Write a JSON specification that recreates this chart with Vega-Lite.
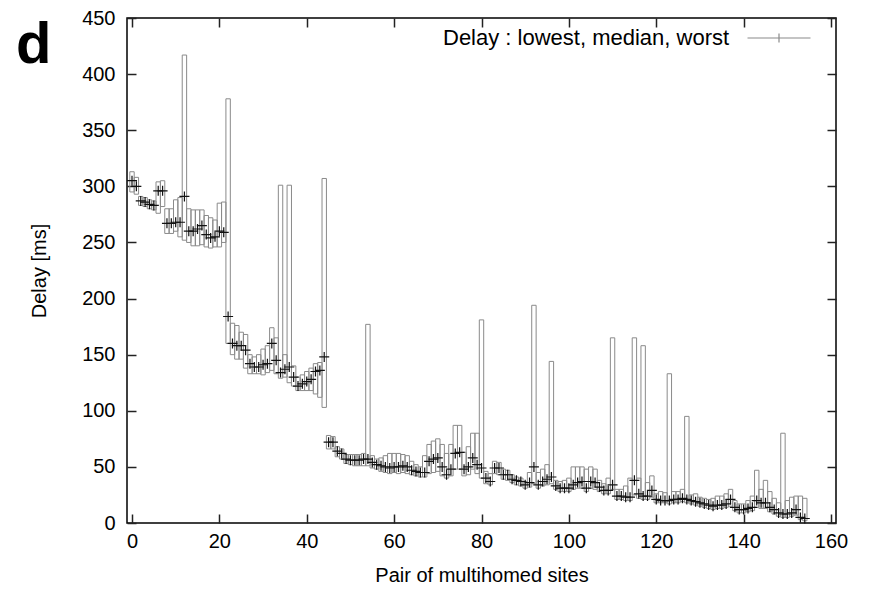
{
  "$schema": "https://vega.github.io/schema/vega-lite/v6.json",
  "width": 709,
  "height": 505,
  "autosize": {"type": "none"},
  "padding": {"left": 127, "top": 18, "right": 34, "bottom": 70},
  "background": "white",
  "config": {
    "font": "Liberation Sans",
    "view": {"stroke": "black", "strokeWidth": 1.5},
    "axis": {"labelFont": "Liberation Sans", "titleFont": "Liberation Sans", "grid": false, "domain": false, "tickColor": "#222", "tickWidth": 1.5, "labelColor": "black", "titleColor": "black", "labelFontSize": 20, "titleFontSize": 20, "titleFontWeight": "normal"}
  },
  "title": {"text": "d", "fontSize": 58, "fontWeight": "bold", "font": "Liberation Sans", "anchor": "start", "frame": "group", "orient": "top", "baseline": "alphabetic", "offset": 0, "dx": -111, "dy": 113, "color": "black"},
  "data": {"values": [
    {"x":0,"lo":295,"med":305,"hi":313},{"x":1,"lo":293,"med":300,"hi":308},{"x":2,"lo":283,"med":287,"hi":291},{"x":3,"lo":282,"med":286,"hi":290},{"x":4,"lo":280,"med":284,"hi":288},{"x":5,"lo":279,"med":283,"hi":287},{"x":6,"lo":276,"med":296,"hi":304},{"x":7,"lo":282,"med":296,"hi":305},{"x":8,"lo":258,"med":267,"hi":280},{"x":9,"lo":258,"med":267,"hi":280},
    {"x":10,"lo":260,"med":268,"hi":288},{"x":11,"lo":255,"med":268,"hi":290},{"x":12,"lo":252,"med":291,"hi":417},{"x":13,"lo":250,"med":260,"hi":280},{"x":14,"lo":247,"med":260,"hi":279},{"x":15,"lo":247,"med":262,"hi":279},{"x":16,"lo":248,"med":265,"hi":279},{"x":17,"lo":246,"med":257,"hi":274},{"x":18,"lo":245,"med":254,"hi":272},{"x":19,"lo":246,"med":255,"hi":270},
    {"x":20,"lo":246,"med":260,"hi":285},{"x":21,"lo":250,"med":259,"hi":286},{"x":22,"lo":160,"med":184,"hi":378},{"x":23,"lo":150,"med":160,"hi":178},{"x":24,"lo":146,"med":158,"hi":176},{"x":25,"lo":146,"med":158,"hi":170},{"x":26,"lo":138,"med":154,"hi":168},{"x":27,"lo":133,"med":142,"hi":150},{"x":28,"lo":133,"med":139,"hi":148},{"x":29,"lo":133,"med":139,"hi":150},
    {"x":30,"lo":132,"med":141,"hi":155},{"x":31,"lo":134,"med":142,"hi":158},{"x":32,"lo":136,"med":160,"hi":174},{"x":33,"lo":133,"med":145,"hi":165},{"x":34,"lo":129,"med":134,"hi":301},{"x":35,"lo":130,"med":137,"hi":150},{"x":36,"lo":125,"med":139,"hi":301},{"x":37,"lo":122,"med":130,"hi":140},{"x":38,"lo":118,"med":122,"hi":130},{"x":39,"lo":118,"med":124,"hi":132},
    {"x":40,"lo":118,"med":126,"hi":135},{"x":41,"lo":118,"med":128,"hi":138},{"x":42,"lo":115,"med":135,"hi":142},{"x":43,"lo":112,"med":136,"hi":143},{"x":44,"lo":103,"med":148,"hi":307},{"x":45,"lo":66,"med":72,"hi":78},{"x":46,"lo":66,"med":72,"hi":77},{"x":47,"lo":59,"med":64,"hi":68},{"x":48,"lo":57,"med":62,"hi":66},{"x":49,"lo":53,"med":57,"hi":61},
    {"x":50,"lo":52,"med":56,"hi":61},{"x":51,"lo":51,"med":56,"hi":61},{"x":52,"lo":51,"med":56,"hi":61},{"x":53,"lo":51,"med":57,"hi":62},{"x":54,"lo":51,"med":57,"hi":177},{"x":55,"lo":49,"med":54,"hi":60},{"x":56,"lo":48,"med":52,"hi":57},{"x":57,"lo":46,"med":51,"hi":58},{"x":58,"lo":45,"med":50,"hi":60},{"x":59,"lo":44,"med":49,"hi":62},
    {"x":60,"lo":45,"med":50,"hi":62},{"x":61,"lo":44,"med":50,"hi":62},{"x":62,"lo":45,"med":51,"hi":61},{"x":63,"lo":44,"med":50,"hi":60},{"x":64,"lo":43,"med":47,"hi":55},{"x":65,"lo":42,"med":46,"hi":52},{"x":66,"lo":41,"med":45,"hi":50},{"x":67,"lo":41,"med":45,"hi":60},{"x":68,"lo":44,"med":55,"hi":70},{"x":69,"lo":45,"med":57,"hi":73},
    {"x":70,"lo":46,"med":58,"hi":75},{"x":71,"lo":42,"med":50,"hi":70},{"x":72,"lo":40,"med":43,"hi":62},{"x":73,"lo":42,"med":48,"hi":70},{"x":74,"lo":48,"med":62,"hi":87},{"x":75,"lo":48,"med":63,"hi":87},{"x":76,"lo":42,"med":48,"hi":63},{"x":77,"lo":43,"med":50,"hi":68},{"x":78,"lo":48,"med":58,"hi":80},{"x":79,"lo":44,"med":52,"hi":80},
    {"x":80,"lo":40,"med":49,"hi":181},{"x":81,"lo":35,"med":40,"hi":46},{"x":82,"lo":34,"med":37,"hi":44},{"x":83,"lo":44,"med":49,"hi":55},{"x":84,"lo":43,"med":49,"hi":54},{"x":85,"lo":39,"med":43,"hi":48},{"x":86,"lo":38,"med":43,"hi":47},{"x":87,"lo":36,"med":39,"hi":43},{"x":88,"lo":34,"med":38,"hi":41},{"x":89,"lo":33,"med":37,"hi":40},
    {"x":90,"lo":31,"med":34,"hi":37},{"x":91,"lo":32,"med":36,"hi":45},{"x":92,"lo":35,"med":50,"hi":194},{"x":93,"lo":31,"med":34,"hi":45},{"x":94,"lo":33,"med":37,"hi":48},{"x":95,"lo":34,"med":39,"hi":52},{"x":96,"lo":35,"med":41,"hi":144},{"x":97,"lo":30,"med":33,"hi":38},{"x":98,"lo":28,"med":31,"hi":37},{"x":99,"lo":28,"med":31,"hi":38},
    {"x":100,"lo":28,"med":31,"hi":40},{"x":101,"lo":30,"med":34,"hi":50},{"x":102,"lo":31,"med":36,"hi":50},{"x":103,"lo":31,"med":37,"hi":50},{"x":104,"lo":28,"med":31,"hi":48},{"x":105,"lo":31,"med":37,"hi":50},{"x":106,"lo":30,"med":36,"hi":48},{"x":107,"lo":28,"med":32,"hi":38},{"x":108,"lo":26,"med":29,"hi":35},{"x":109,"lo":26,"med":29,"hi":40},
    {"x":110,"lo":30,"med":34,"hi":165},{"x":111,"lo":21,"med":24,"hi":30},{"x":112,"lo":21,"med":24,"hi":30},{"x":113,"lo":20,"med":23,"hi":33},{"x":114,"lo":20,"med":23,"hi":40},{"x":115,"lo":25,"med":38,"hi":165},{"x":116,"lo":22,"med":26,"hi":40},{"x":117,"lo":21,"med":24,"hi":158},{"x":118,"lo":21,"med":24,"hi":36},{"x":119,"lo":23,"med":29,"hi":42},
    {"x":120,"lo":18,"med":21,"hi":26},{"x":121,"lo":18,"med":20,"hi":28},{"x":122,"lo":18,"med":20,"hi":27},{"x":123,"lo":17,"med":20,"hi":133},{"x":124,"lo":18,"med":21,"hi":28},{"x":125,"lo":18,"med":21,"hi":28},{"x":126,"lo":19,"med":22,"hi":30},{"x":127,"lo":18,"med":21,"hi":95},{"x":128,"lo":17,"med":20,"hi":25},{"x":129,"lo":16,"med":19,"hi":26},
    {"x":130,"lo":15,"med":18,"hi":23},{"x":131,"lo":14,"med":17,"hi":22},{"x":132,"lo":13,"med":16,"hi":21},{"x":133,"lo":12,"med":15,"hi":22},{"x":134,"lo":13,"med":16,"hi":24},{"x":135,"lo":13,"med":16,"hi":24},{"x":136,"lo":14,"med":17,"hi":26},{"x":137,"lo":15,"med":21,"hi":30},{"x":138,"lo":11,"med":14,"hi":20},{"x":139,"lo":9,"med":12,"hi":17},
    {"x":140,"lo":9,"med":12,"hi":17},{"x":141,"lo":10,"med":13,"hi":20},{"x":142,"lo":11,"med":14,"hi":24},{"x":143,"lo":14,"med":20,"hi":47},{"x":144,"lo":13,"med":18,"hi":30},{"x":145,"lo":13,"med":18,"hi":38},{"x":146,"lo":10,"med":14,"hi":28},{"x":147,"lo":8,"med":12,"hi":22},{"x":148,"lo":6,"med":9,"hi":18},{"x":149,"lo":5,"med":8,"hi":80},
    {"x":150,"lo":5,"med":8,"hi":20},{"x":151,"lo":6,"med":9,"hi":23},{"x":152,"lo":7,"med":12,"hi":24},{"x":153,"lo":3,"med":5,"hi":24},{"x":154,"lo":2,"med":4,"hi":22}
  ]},
  "layer": [
    {
      "mark": {"type": "bar", "width": 4.4, "filled": false, "strokeWidth": 1},
      "encoding": {
        "x": {"field": "x", "type": "quantitative", "scale": {"domain": [0, 160], "nice": false},
              "axis": {"orient": "bottom", "values": [0,20,40,60,80,100,120,140,160], "tickSize": -9, "labelPadding": 17, "title": "Pair of multihomed sites", "titlePadding": 14}},
        "y": {"field": "lo", "type": "quantitative", "scale": {"domain": [0, 450], "nice": false},
              "axis": {"orient": "left", "values": [0,50,100,150,200,250,300,350,400,450], "tickSize": -9, "labelPadding": 21, "title": "Delay [ms]", "titlePadding": 32}},
        "y2": {"field": "hi"},
        "color": {"datum": "Delay : lowest, median, worst", "scale": {"range": ["#8a8a8a"]},
                  "legend": {"orient": "none", "legendX": 316, "legendY": 14, "title": "Delay : lowest, median, worst", "titleOrient": "left", "titleFontSize": 22, "titleFontWeight": "normal", "titleColor": "black", "titleFont": "Liberation Sans", "titleLimit": 500, "titlePadding": 43, "titleBaseline": "middle", "labelExpr": "''", "labelOffset": 0, "symbolType": "M-6.3,0L6.3,0M0,-0.9L0,0.9", "symbolSize": 100, "symbolStrokeWidth": 1.2, "symbolStrokeColor": "#555", "padding": 0}}
      }
    },
    {
      "mark": {"type": "point", "shape": "M-1,0L1,0M0,-1L0,1", "size": 100, "filled": false, "color": "#111", "opacity": 1, "strokeWidth": 1.2},
      "encoding": {
        "x": {"field": "x", "type": "quantitative", "axis": {"orient": "top", "values": [0,20,40,60,80,100,120,140,160], "tickSize": -9, "labels": false, "title": null}},
        "y": {"field": "med", "type": "quantitative", "axis": {"orient": "right", "values": [0,50,100,150,200,250,300,350,400,450], "tickSize": -9, "labels": false, "title": null}}
      }
    }
  ],
  "resolve": {"axis": {"x": "independent", "y": "independent"}}
}
